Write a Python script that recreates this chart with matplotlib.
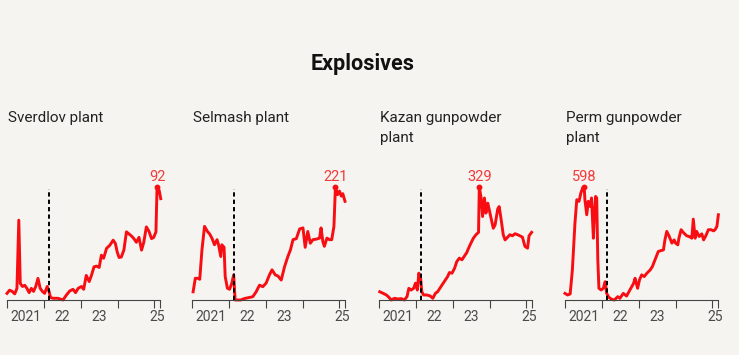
import matplotlib
matplotlib.use("Agg")
import matplotlib.pyplot as plt

plt.rcParams['font.family'] = ['Roboto', 'DejaVu Sans']

# decimal years / values, one pair of lists per plant
sverdlov_t = [2021.00, 2021.07, 2021.14, 2021.21, 2021.27, 2021.32, 2021.36, 2021.42, 2021.48,
              2021.54, 2021.60, 2021.66, 2021.72, 2021.78, 2021.84, 2021.90, 2021.96, 2022.02,
              2022.09, 2022.14, 2022.18, 2022.25, 2022.38, 2022.52, 2022.61, 2022.70, 2022.79,
              2022.86, 2022.93, 2023.02, 2023.08, 2023.15, 2023.23, 2023.29, 2023.36, 2023.43,
              2023.50, 2023.56, 2023.62, 2023.70, 2023.79, 2023.88, 2023.94, 2023.99, 2024.04,
              2024.10, 2024.17, 2024.24, 2024.30, 2024.38, 2024.44, 2024.51, 2024.58, 2024.65,
              2024.71, 2024.78, 2024.85, 2024.92, 2024.98, 2025.04, 2025.07, 2025.13, 2025.17]
sverdlov_v = [5.4, 8, 7, 5, 9.5, 65, 13.5, 11, 12, 9.5, 6, 9.5, 7, 11, 17.6, 9.5, 7, 5.4,
              11, 7, 2, 1.4, 1.4, 0, 4, 7.3, 8.7, 6, 9.5, 11, 8.7, 20, 15, 20, 27, 27.6,
              26.5, 36.5, 34, 42, 44.6, 48.7, 46, 39, 34.6, 35, 40.6, 55.5, 54, 52, 50, 47,
              51, 40.6, 47, 59.5, 56, 50, 51, 55.5, 92, 89, 82.5]

selmash_t = [2021.03, 2021.09, 2021.16, 2021.21, 2021.27, 2021.34, 2021.42, 2021.48, 2021.54,
             2021.61, 2021.68, 2021.72, 2021.78, 2021.81, 2021.87, 2021.90, 2021.96, 2022.02,
             2022.08, 2022.13, 2022.17, 2022.25, 2022.32, 2022.43, 2022.56, 2022.65, 2022.74,
             2022.83, 2022.92, 2023.01, 2023.10, 2023.17, 2023.26, 2023.33, 2023.42, 2023.51,
             2023.60, 2023.67, 2023.74, 2023.83, 2023.92, 2024.01, 2024.07, 2024.14, 2024.21,
             2024.28, 2024.37, 2024.46, 2024.50, 2024.55, 2024.59, 2024.66, 2024.73, 2024.79,
             2024.85, 2024.89, 2024.95, 2025.00, 2025.05, 2025.09, 2025.15]
selmash_v = [16, 42.5, 42.5, 40.5, 98, 144, 134, 129, 121, 108, 118, 108, 85, 108, 103, 46,
             23, 21, 33, 49, 0, 0, 0, 3, 5, 6.5, 16, 29, 26, 33, 49, 59, 49, 47, 39, 65, 85,
             98, 118, 120, 139, 141, 103, 134, 111, 118, 119, 121, 141, 114, 105, 121, 118,
             118, 144, 221, 206, 213, 203, 208, 193]

kazan_t = [2021.02, 2021.11, 2021.20, 2021.27, 2021.33, 2021.42, 2021.51, 2021.60, 2021.69,
           2021.76, 2021.81, 2021.87, 2021.94, 2021.99, 2022.04, 2022.08, 2022.13, 2022.16,
           2022.21, 2022.30, 2022.39, 2022.46, 2022.53, 2022.59, 2022.68, 2022.77, 2022.86,
           2022.91, 2022.98, 2023.05, 2023.11, 2023.18, 2023.25, 2023.32, 2023.38, 2023.43,
           2023.50, 2023.56, 2023.63, 2023.70, 2023.72, 2023.77, 2023.81, 2023.86, 2023.90,
           2023.95, 2023.99, 2024.04, 2024.10, 2024.15, 2024.22, 2024.26, 2024.32, 2024.37,
           2024.42, 2024.49, 2024.55, 2024.62, 2024.69, 2024.76, 2024.82, 2024.89, 2024.96,
           2025.03, 2025.07, 2025.14]
kazan_v = [24, 19.5, 14.6, 7.8, 0, 5, 3, 4, 0, 10, 34, 29, 34, 49, 29, 78, 63, 24, 14.6,
           14.6, 11.7, 5, 19.5, 24, 39, 53.5, 68, 80, 78, 92.5, 112, 122, 117, 128.5, 138,
           151, 167, 180, 190, 197, 329, 297, 243, 297, 253, 282, 263, 238, 209, 219, 265,
           272, 229, 190, 175, 183, 190, 187, 193, 190, 187, 183, 156, 151, 187, 197]

perm_t = [2021.00, 2021.07, 2021.14, 2021.20, 2021.27, 2021.32, 2021.38, 2021.43, 2021.48,
          2021.52, 2021.54, 2021.59, 2021.63, 2021.68, 2021.72, 2021.77, 2021.80, 2021.83,
          2021.86, 2021.89, 2021.92, 2021.98, 2022.04, 2022.09, 2022.13, 2022.19, 2022.27,
          2022.34, 2022.43, 2022.49, 2022.58, 2022.67, 2022.76, 2022.86, 2022.90, 2022.97,
          2023.02, 2023.08, 2023.15, 2023.22, 2023.31, 2023.37, 2023.44, 2023.53, 2023.61,
          2023.67, 2023.71, 2023.76, 2023.82, 2023.90, 2023.96, 2024.00, 2024.06, 2024.09,
          2024.15, 2024.21, 2024.30, 2024.39, 2024.44, 2024.48, 2024.53, 2024.57, 2024.64,
          2024.71, 2024.76, 2024.82, 2024.89, 2024.96, 2025.03, 2025.07, 2025.12, 2025.16]
perm_v = [35, 26.5, 32, 159, 407, 531, 522, 566, 593, 598, 531, 451, 522, 495, 540, 327,
          460, 548, 540, 212, 62, 53, 62, 97, 35, 14, 3.5, 0, 17.7, 9, 35, 21, 53, 88, 115,
          62, 106, 133, 124, 141.5, 159, 177, 212, 256.5, 262, 265, 318, 363, 340, 301, 318,
          301, 292, 327, 372, 357, 340, 334, 327, 428, 327, 363, 336, 350, 318, 340, 372,
          372, 366, 372, 389, 451]

plants = ["Sverdlov plant", "Selmash plant", "Kazan gunpowder\nplant", "Perm gunpowder\nplant"]
series = [(sverdlov_t, sverdlov_v), (selmash_t, selmash_v), (kazan_t, kazan_v), (perm_t, perm_v)]
year_ticks = [2021, 2022, 2023, 2024, 2025]
year_labels = ["2021", "22", "23", "", "25"]
invasion = 2022.15
x_end = 2025.15

RED = "#f80d12"
BG = "#f5f4f0"

W, H = 739, 355
fig = plt.figure(figsize=(W / 100, H / 100), dpi=100, facecolor=BG)

fig.text(363 / W, 1 - 64 / H, "Explosives", ha="center", va="center",
         fontsize=15.5, fontweight="bold", color="#111111")

lefts = [7, 192, 379, 565]
panel_w = 153
for left, name, (t, v) in zip(lefts, plants, series):
    ax = fig.add_axes([left / W, 55 / H, panel_w / W, 113 / H])
    ax.set_facecolor(BG)
    peak = max(v)
    ax.set_xlim(2021, x_end)
    ax.set_ylim(0, peak)

    ax.plot(t, v, color=RED, lw=2.1, solid_joinstyle="round", clip_on=False, zorder=2)
    ax.plot([invasion, invasion], [0, peak * 0.98], color="black", lw=1.4,
            dashes=(2.2, 1.6), zorder=3, clip_on=False)

    i = v.index(peak)
    ax.plot([t[i]], [peak], "o", color=RED, ms=3.2, clip_on=False, zorder=4)
    ax.annotate(str(int(peak)), (t[i], peak), xytext=(0, 2), textcoords="offset points",
                ha="center", va="bottom", color="#f23a3a", fontsize=10.5)

    # year boundaries as ticks, labels in the middle of each year
    ax.set_xticks(year_ticks + [x_end])
    ax.set_xticklabels([])
    ax.tick_params(axis="x", which="major", length=6, width=0.8, color="#444444")
    mids = [2021.5, 2022.5, 2023.5, 2024.5, (2025 + x_end) / 2]
    ax.set_xticks(mids, minor=True)
    ax.set_xticklabels(year_labels, minor=True)
    ax.tick_params(axis="x", which="minor", length=0, pad=7.5, labelsize=10,
                   labelcolor="#4a4a4a")
    ax.set_yticks([])
    for s in ["top", "left", "right"]:
        ax.spines[s].set_visible(False)
    ax.spines["bottom"].set_color("#444444")
    ax.spines["bottom"].set_linewidth(0.8)

    fig.text((left + 1) / W, 1 - 111 / H, name, ha="left", va="top", fontsize=11,
             color="#222222", linespacing=1.55)

fig.savefig("out.png", dpi=100, facecolor=BG)
